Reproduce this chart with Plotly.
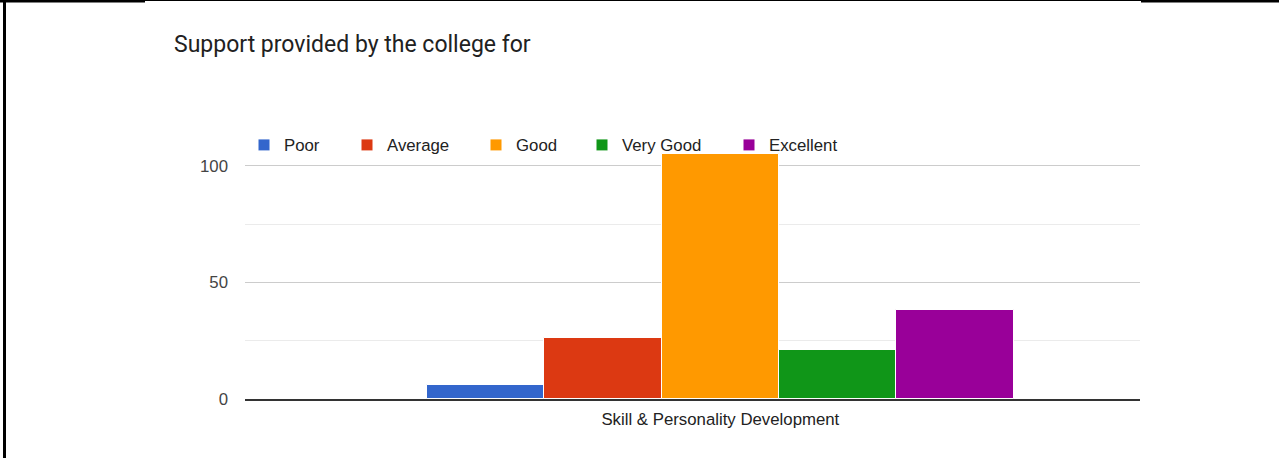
import plotly.graph_objects as go

categories = ["Skill & Personality Development"]
series_names = ["Poor", "Average", "Good", "Very Good", "Excellent"]
series_values = [[6], [26], [105], [21], [38]]
series_colors = ["#3366cc", "#dc3912", "#ff9900", "#109618", "#990099"]
y_tick_values = [0, 50, 100]
y_tick_labels = ["0", "50", "100"]
legend_text_x = [284, 387, 516, 622, 769]

W, H = 1279, 458
L, R, T, B = 245, 1279 - 1140, 147, 458 - 399
FS = 16.8


def px_x(x):
    return (x - L) / (W - L - R)


def px_y(y):
    return (H - B - y) / (H - T - B)


fig = go.Figure()
legend_layout = {}
for i, (name, vals, col) in enumerate(zip(series_names, series_values, series_colors)):
    key = "legend" if i == 0 else f"legend{i + 1}"
    fig.add_trace(go.Bar(
        x=categories, y=vals, name=name, legend=key,
        marker=dict(color=col, line=dict(color="white", width=1)),
        hoverinfo="skip",
    ))
    legend_layout[key] = dict(
        orientation="h", x=px_x(legend_text_x[i] - 40), xanchor="left",
        y=px_y(145), yanchor="middle",
        font=dict(size=FS, color="#222222"), bgcolor="rgba(0,0,0,0)",
    )

shapes = [
    dict(type="line", xref="paper", yref="paper", x0=px_x(4.5), x1=px_x(4.5), y0=px_y(0), y1=px_y(458),
         line=dict(color="black", width=3)),
    dict(type="line", xref="paper", yref="paper", x0=px_x(0), x1=px_x(145), y0=px_y(1), y1=px_y(1),
         line=dict(color="black", width=3)),
    dict(type="line", xref="paper", yref="paper", x0=px_x(145), x1=px_x(1141), y0=px_y(0.5), y1=px_y(0.5),
         line=dict(color="black", width=1)),
    dict(type="line", xref="paper", yref="paper", x0=px_x(1141), x1=px_x(1279), y0=px_y(1), y1=px_y(1),
         line=dict(color="black", width=3)),
]

fig.update_layout(
    width=W, height=H,
    margin=dict(l=L, r=R, t=T, b=B, pad=0),
    paper_bgcolor="white", plot_bgcolor="white",
    barmode="group", bargap=0, bargroupgap=0,
    font=dict(family="Liberation Sans, Arial, sans-serif", size=FS, color="#222222"),
    title=dict(text="Support provided by the college for", x=174 / W, xanchor="left",
               y=1 - 44 / H, yanchor="middle", yref="container",
               font=dict(family="Roboto, sans-serif", size=23, color="#212121")),
    showlegend=True,
    shapes=shapes,
    xaxis=dict(range=[-0.8098, 0.7149], showgrid=False, showline=True, linecolor="#333333",
               linewidth=2, ticks="", ticklabelstandoff=4,
               tickfont=dict(size=FS, color="#222222"), fixedrange=True),
    yaxis=dict(range=[0, 108], tickvals=y_tick_values, ticktext=y_tick_labels,
               showgrid=True, gridcolor="#cccccc", gridwidth=1, zeroline=False,
               showline=False, ticks="", ticklabelstandoff=16,
               tickfont=dict(size=FS, color="#444444"),
               minor=dict(tickvals=[25, 75], showgrid=True, gridcolor="#ebebeb", gridwidth=1),
               fixedrange=True),
    **legend_layout,
)

fig.write_html("out.html", config={"displayModeBar": False},
               post_script="document.body.style.margin='0';")
